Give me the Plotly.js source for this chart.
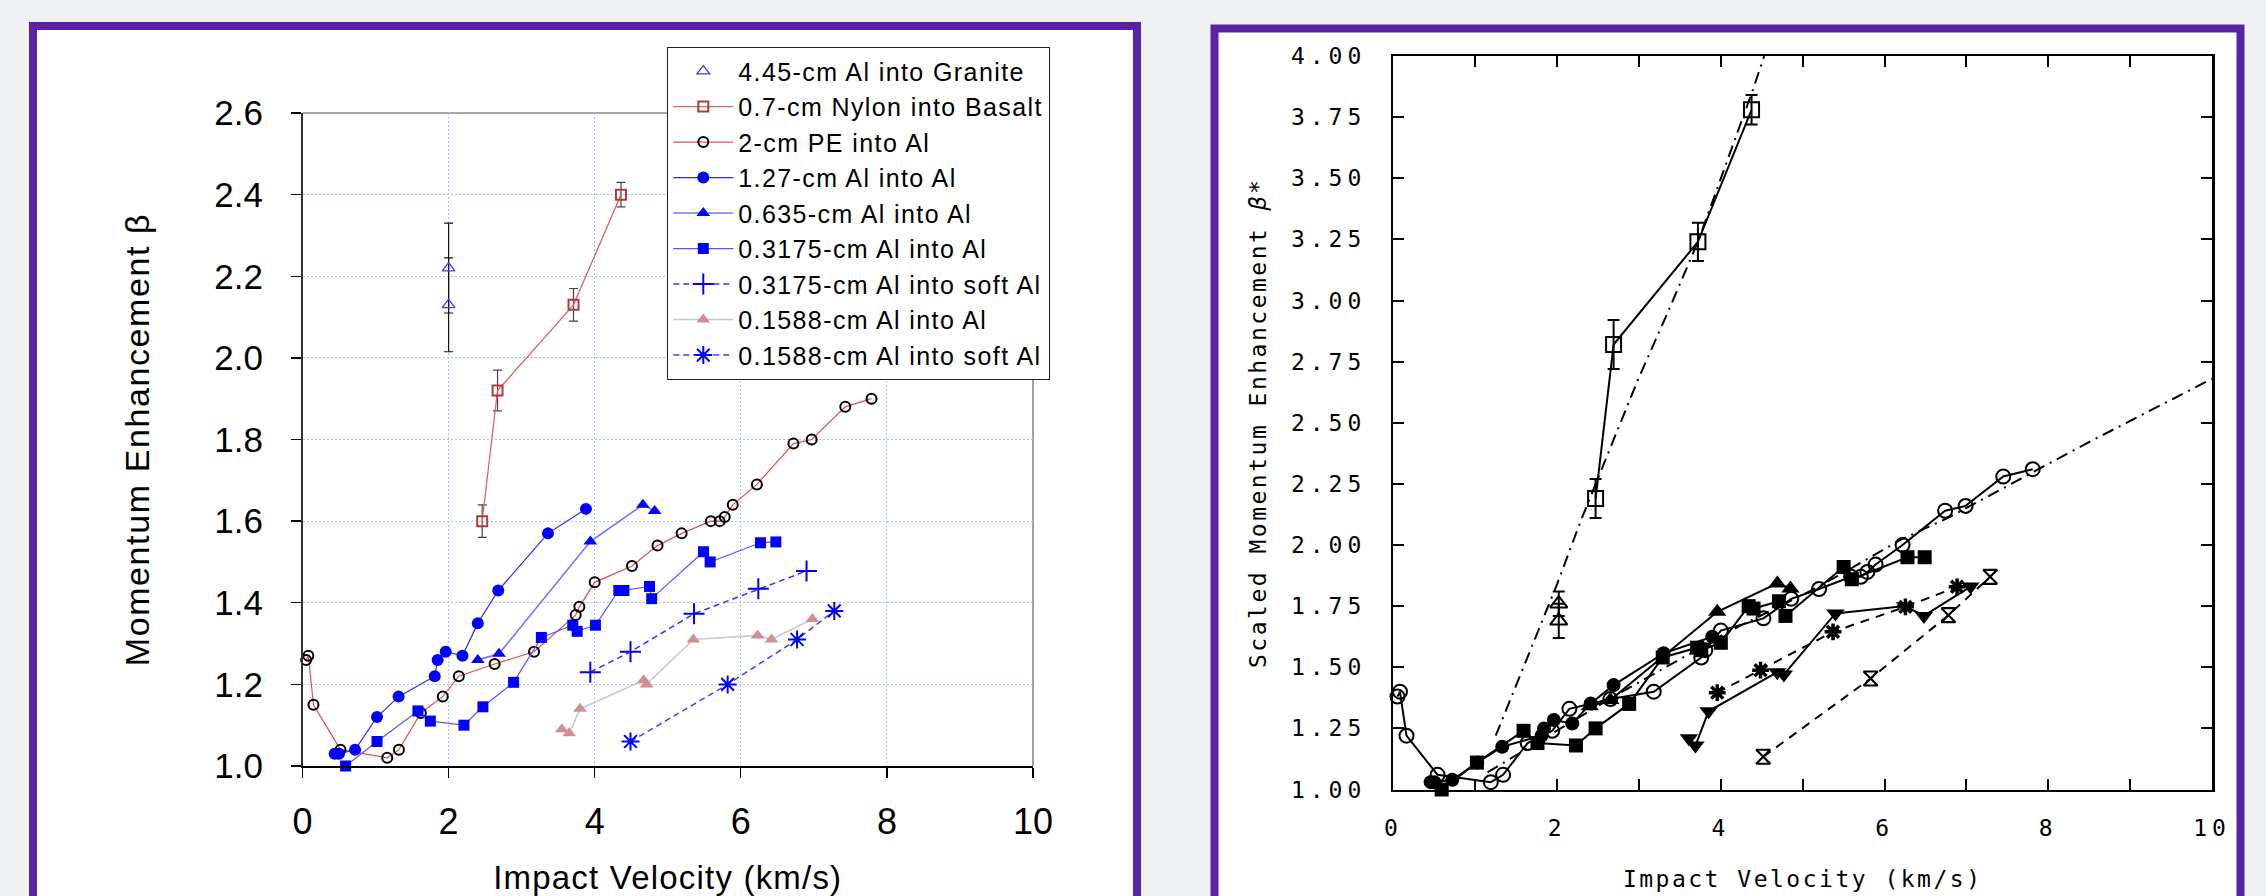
<!DOCTYPE html>
<html>
<head>
<meta charset="utf-8">
<script src="https://cdn.plot.ly/plotly-3.0.1.min.js"></script>
<style>
html,body{margin:0;padding:0;background:#eef0f2;}
#chart{width:2266px;height:896px;}
.xtitle{letter-spacing:1.2px;}
.ytitle{letter-spacing:1.6px;}
.legendtext{letter-spacing:1.4px;}
.x2title,.y2title{letter-spacing:2.5px;}
.x2tick text,.y2tick text{letter-spacing:5px;}
</style>
</head>
<body>
<div id="chart"></div>
<script>
// ---------- Left panel: Momentum Enhancement beta ----------
const legendNames = [
  '4.45-cm Al into Granite',
  '0.7-cm Nylon into Basalt',
  '2-cm PE into Al',
  '1.27-cm Al into Al',
  '0.635-cm Al into Al',
  '0.3175-cm Al into Al',
  '0.3175-cm Al into soft Al',
  '0.1588-cm Al into Al',
  '0.1588-cm Al into soft Al'
];

const graniteX = [2.0, 2.0];
const graniteY = [2.22, 2.13];
const graniteErr = [0.11, 0.115];

const nylonX = [2.46, 2.67, 3.71, 4.36];
const nylonY = [1.60, 1.92, 2.13, 2.40];
const nylonErr = [0.04, 0.05, 0.04, 0.03];

const peX = [0.05, 0.08, 0.15, 0.52, 1.16, 1.32, 1.62, 1.92, 2.14, 2.63, 3.17, 3.74, 3.79, 4.0, 4.51, 4.86, 5.19, 5.59, 5.71, 5.78, 5.89, 6.22, 6.72, 6.97, 7.43, 7.79];
const peY = [1.26, 1.27, 1.15, 1.04, 1.02, 1.04, 1.13, 1.17, 1.22, 1.25, 1.28, 1.37, 1.39, 1.45, 1.49, 1.54, 1.57, 1.60, 1.60, 1.61, 1.64, 1.69, 1.79, 1.80, 1.88, 1.90];

const al127X = [0.44, 0.50, 0.72, 1.02, 1.315, 1.81, 1.85, 1.96, 2.19, 2.40, 2.68, 3.36, 3.88];
const al127Y = [1.03, 1.03, 1.04, 1.12, 1.17, 1.22, 1.26, 1.28, 1.27, 1.35, 1.43, 1.57, 1.63];

const al0635X = [2.40, 2.69, 3.94, 4.66, 4.82];
const al0635Y = [1.26, 1.275, 1.55, 1.64, 1.625];

const al3175X = [0.59, 1.02, 1.58, 1.75, 2.21, 2.47, 2.89, 3.27, 3.70, 3.76, 4.01, 4.33, 4.40, 4.75, 4.78, 5.49, 5.58, 6.27, 6.48];
const al3175Y = [1.0, 1.06, 1.135, 1.11, 1.10, 1.145, 1.205, 1.315, 1.345, 1.33, 1.345, 1.43, 1.43, 1.44, 1.41, 1.525, 1.50, 1.547, 1.549];

const soft3175X = [3.94, 4.49, 5.36, 6.24, 6.90];
const soft3175Y = [1.23, 1.28, 1.373, 1.434, 1.478];

const al1588X = [3.55, 3.65, 3.80, 4.67, 4.71, 5.35, 6.23, 6.42, 6.98];
const al1588Y = [1.09, 1.08, 1.14, 1.21, 1.20, 1.31, 1.32, 1.31, 1.36];

const soft1588X = [4.49, 5.82, 6.77, 7.28];
const soft1588Y = [1.06, 1.20, 1.31, 1.38];

// ---------- Right panel: Scaled Momentum Enhancement beta* ----------
const sGraniteX = [2.02, 2.02];
const sGraniteY = [1.76, 1.69];
const sGraniteErr = [0.05, 0.07];

const sNylonX = [2.47, 2.69, 3.72, 4.375];
const sNylonY = [2.19, 2.82, 3.24, 3.78];
const sNylonErr = [0.08, 0.10, 0.078, 0.06];

const sPeX = [0.05, 0.08, 0.16, 0.54, 1.19, 1.34, 1.64, 1.94, 2.15, 2.65, 3.18, 3.76, 3.81, 4.0, 4.52, 4.86, 5.2, 5.59, 5.71, 5.79, 5.89, 6.22, 6.74, 6.99, 7.45, 7.81];
const sPeY = [1.38, 1.40, 1.22, 1.06, 1.03, 1.06, 1.19, 1.24, 1.33, 1.37, 1.40, 1.54, 1.57, 1.65, 1.70, 1.78, 1.82, 1.87, 1.87, 1.89, 1.92, 2.0, 2.14, 2.16, 2.28, 2.31];

const sAl127X = [0.455, 0.50, 0.72, 1.025, 1.33, 1.81, 1.84, 1.96, 2.185, 2.41, 2.69, 3.30, 3.895];
const sAl127Y = [1.03, 1.03, 1.04, 1.11, 1.175, 1.22, 1.25, 1.284, 1.27, 1.352, 1.427, 1.557, 1.625];

const sAl0635X = [2.40, 2.65, 3.956, 4.69, 4.85];
const sAl0635Y = [1.34, 1.366, 1.727, 1.843, 1.822];

const sAl3175X = [0.59, 1.02, 1.59, 1.76, 2.23, 2.47, 2.88, 3.29, 3.71, 3.76, 4.0, 4.34, 4.40, 4.71, 4.79, 5.50, 5.60, 6.28, 6.49];
const sAl3175Y = [1.0, 1.11, 1.24, 1.19, 1.18, 1.25, 1.35, 1.54, 1.58, 1.57, 1.60, 1.75, 1.74, 1.77, 1.71, 1.91, 1.86, 1.95, 1.95];

const sAl1588X = [3.61, 3.69, 3.85, 4.69, 4.77, 5.40, 6.25, 6.48, 7.05];
const sAl1588Y = [1.21, 1.18, 1.32, 1.48, 1.47, 1.72, 1.75, 1.71, 1.83];

const sSoft3175X = [3.956, 4.485, 5.37, 6.255, 6.886];
const sSoft3175Y = [1.396, 1.488, 1.645, 1.747, 1.829];

const sSoft1588X = [4.518, 5.83, 6.78, 7.29];
const sSoft1588Y = [1.134, 1.454, 1.713, 1.87];

const fitSteepX = [1.25, 1.64, 2.0, 2.29, 2.69, 2.98, 3.35, 3.72, 4.40, 4.53];
const fitSteepY = [1.22, 1.54, 1.84, 2.10, 2.43, 2.67, 2.95, 3.24, 3.87, 4.0];

const fitShallowX = [1.15, 2.69, 4.12, 5.2, 6.19, 6.8, 7.99, 8.55, 10.0];
const fitShallowY = [1.07, 1.38, 1.65, 1.83, 2.02, 2.115, 2.33, 2.43, 2.68];

const rightYTicks = [1.0, 1.25, 1.5, 1.75, 2.0, 2.25, 2.5, 2.75, 3.0, 3.25, 3.5, 3.75, 4.0];
const rightYTickText = ['1.00', '1.25', '1.50', '1.75', '2.00', '2.25', '2.50', '2.75', '3.00', '3.25', '3.50', '3.75', '4.00'];
const rightXTicks = [0, 1, 2, 3, 4, 5, 6, 7, 8, 9, 10];
const rightXTickText = ['0', '', '2', '', '4', '', '6', '', '8', '', '10'];

// ---------- traces ----------
const W = 2266, H = 896;
const px = v => v / W;
const py = v => 1 - v / H;

const ebL = (arr, col) => ({type: 'data', array: arr, visible: true, color: col, thickness: 1.2, width: 4.5});
const ebR = arr => ({type: 'data', array: arr, visible: true, color: '#000', thickness: 2, width: 6});

const traces = [
  {x: graniteX, y: graniteY, name: legendNames[0], mode: 'markers', cliponaxis: false,
   marker: {symbol: 'triangle-up-open', size: 11, color: '#3c3cff', line: {width: 1.3, color: '#3c3cff'}},
   error_y: ebL(graniteErr, '#111')},
  {x: nylonX, y: nylonY, name: legendNames[1], mode: 'lines+markers', cliponaxis: false,
   line: {color: '#e06060', width: 1.3},
   marker: {symbol: 'square-open', size: 10, color: '#b03a3a', line: {width: 2, color: '#b03a3a'}},
   error_y: ebL(nylonErr, '#444')},
  {x: peX, y: peY, name: legendNames[2], mode: 'lines+markers', cliponaxis: false,
   line: {color: '#e05050', width: 1.2},
   marker: {symbol: 'circle-open', size: 10, color: '#000', line: {width: 2, color: '#000'}}},
  {x: al127X, y: al127Y, name: legendNames[3], mode: 'lines+markers', cliponaxis: false,
   line: {color: '#2a2aff', width: 1.2},
   marker: {symbol: 'circle', size: 12, color: '#0000ff'}},
  {x: al0635X, y: al0635Y, name: legendNames[4], mode: 'lines+markers', cliponaxis: false,
   line: {color: '#7474ff', width: 1.6},
   marker: {symbol: 'triangle-up', size: 12, color: '#0000ff'}},
  {x: al3175X, y: al3175Y, name: legendNames[5], mode: 'lines+markers', cliponaxis: false,
   line: {color: '#5555ff', width: 1.2},
   marker: {symbol: 'square', size: 11, color: '#0000ff'}},
  {x: soft3175X, y: soft3175Y, name: legendNames[6], mode: 'lines+markers', cliponaxis: false,
   line: {color: '#3030ff', width: 1.5, dash: '6px,4px'},
   marker: {symbol: 'cross-thin-open', size: 15, color: '#0000ff', line: {width: 2, color: '#0000ff'}}},
  {x: al1588X, y: al1588Y, name: legendNames[7], mode: 'lines+markers', cliponaxis: false,
   line: {color: '#c8c8c8', width: 1.6},
   marker: {symbol: 'triangle-up', size: 12, color: '#d09090'}},
  {x: soft1588X, y: soft1588Y, name: legendNames[8], mode: 'lines+markers', cliponaxis: false,
   line: {color: '#4040ff', width: 1.5, dash: '6px,4px'},
   marker: {symbol: 'asterisk-open', size: 15, color: '#0000ff', line: {width: 2, color: '#0000ff'}}},

  // right panel
  {x: fitSteepX, y: fitSteepY, xaxis: 'x2', yaxis: 'y2', mode: 'lines', showlegend: false,
   line: {color: '#000', width: 2, dash: '12px,6px,2px,6px'}},
  {x: fitShallowX, y: fitShallowY, xaxis: 'x2', yaxis: 'y2', mode: 'lines', showlegend: false,
   line: {color: '#000', width: 2, dash: '12px,6px,2px,6px'}},
  {x: sGraniteX, y: sGraniteY, xaxis: 'x2', yaxis: 'y2', mode: 'markers', showlegend: false, cliponaxis: false,
   marker: {symbol: 'triangle-up-open', size: 15, color: '#000', line: {width: 2, color: '#000'}},
   error_y: ebR(sGraniteErr)},
  {x: sNylonX, y: sNylonY, xaxis: 'x2', yaxis: 'y2', mode: 'lines+markers', showlegend: false, cliponaxis: false,
   line: {color: '#000', width: 2},
   marker: {symbol: 'square-open', size: 15, color: '#000', line: {width: 2, color: '#000'}},
   error_y: ebR(sNylonErr)},
  {x: sPeX, y: sPeY, xaxis: 'x2', yaxis: 'y2', mode: 'lines+markers', showlegend: false, cliponaxis: false,
   line: {color: '#000', width: 2},
   marker: {symbol: 'circle-open', size: 14, color: '#000', line: {width: 2, color: '#000'}}},
  {x: sAl127X, y: sAl127Y, xaxis: 'x2', yaxis: 'y2', mode: 'lines+markers', showlegend: false, cliponaxis: false,
   line: {color: '#000', width: 2},
   marker: {symbol: 'circle', size: 14, color: '#000'}},
  {x: sAl0635X, y: sAl0635Y, xaxis: 'x2', yaxis: 'y2', mode: 'lines+markers', showlegend: false, cliponaxis: false,
   line: {color: '#000', width: 2},
   marker: {symbol: 'triangle-up', size: 16, color: '#000'}},
  {x: sAl3175X, y: sAl3175Y, xaxis: 'x2', yaxis: 'y2', mode: 'lines+markers', showlegend: false, cliponaxis: false,
   line: {color: '#000', width: 2},
   marker: {symbol: 'square', size: 14, color: '#000'}},
  {x: sAl1588X, y: sAl1588Y, xaxis: 'x2', yaxis: 'y2', mode: 'lines+markers', showlegend: false, cliponaxis: false,
   line: {color: '#000', width: 2},
   marker: {symbol: 'triangle-down', size: 16, color: '#000'}},
  {x: sSoft3175X, y: sSoft3175Y, xaxis: 'x2', yaxis: 'y2', mode: 'lines+markers', showlegend: false, cliponaxis: false,
   line: {color: '#000', width: 2, dash: '9px,7px'},
   marker: {symbol: 'asterisk-open', size: 14, color: '#000', line: {width: 3.5, color: '#000'}}},
  {x: sSoft1588X, y: sSoft1588Y, xaxis: 'x2', yaxis: 'y2', mode: 'lines+markers', showlegend: false, cliponaxis: false,
   line: {color: '#000', width: 2, dash: '9px,7px'},
   marker: {symbol: 'hourglass-open', size: 14, color: '#000', line: {width: 2.2, color: '#000'}}}
];

const purple = '#5a22a4';
const leftFont = 'Liberation Sans, Arial, sans-serif';
const rightFont = 'DejaVu Sans Mono, monospace';

const layout = {
  width: W, height: H,
  margin: {l: 0, r: 0, t: 0, b: 0},
  paper_bgcolor: '#eef0f2',
  plot_bgcolor: 'rgba(0,0,0,0)',
  showlegend: true,
  legend: {
    x: px(667), y: py(47), xanchor: 'left', yanchor: 'top',
    bgcolor: '#ffffff', bordercolor: '#222', borderwidth: 1.3,
    font: {family: leftFont, size: 25, color: '#000'},
    itemwidth: 60, tracegroupgap: 0
  },
  xaxis: {
    domain: [px(302.5), px(1033)], anchor: 'y', range: [0, 10],
    tick0: 0, dtick: 2, ticks: 'outside', ticklen: 10, tickwidth: 1.3, tickcolor: '#000',
    showline: true, linecolor: '#000', linewidth: 1.5,
    showgrid: true, gridcolor: '#9ccaf5', gridwidth: 1, griddash: '2px,2px',
    zeroline: false, ticklabelstandoff: 13,
    tickfont: {family: leftFont, size: 36, color: '#000'},
    title: {text: 'Impact Velocity (km/s)', font: {family: leftFont, size: 33, color: '#000'}, standoff: 26}
  },
  yaxis: {
    domain: [py(766), py(113)], anchor: 'x', range: [1.0, 2.6],
    tick0: 1.0, dtick: 0.2, tickformat: '.1f', ticks: 'outside', ticklen: 10, tickwidth: 1.3, tickcolor: '#000',
    showline: true, linecolor: '#333', linewidth: 1.5,
    showgrid: true, gridcolor: '#9ccaf5', gridwidth: 1, griddash: '2px,2px',
    zeroline: false, ticklabelstandoff: 21,
    tickfont: {family: leftFont, size: 35, color: '#000'},
    title: {text: 'Momentum Enhancement β', font: {family: leftFont, size: 34, color: '#000'}, standoff: 54}
  },
  xaxis2: {
    domain: [px(1393.4), px(2212)], anchor: 'y2', range: [0, 10],
    tickmode: 'array', tickvals: rightXTicks, ticktext: rightXTickText,
    ticks: 'inside', ticklen: 11, tickwidth: 2, tickcolor: '#000', mirror: 'allticks',
    showline: true, linecolor: '#000', linewidth: 2.5, showgrid: false, zeroline: false,
    ticklabelstandoff: 16,
    tickfont: {family: rightFont, size: 23, color: '#000'},
    title: {text: 'Impact Velocity (km/s)', font: {family: rightFont, size: 23, color: '#000'}, standoff: 32}
  },
  yaxis2: {
    domain: [py(789.5), py(56)], anchor: 'x2', range: [1, 4],
    tickmode: 'array', tickvals: rightYTicks, ticktext: rightYTickText,
    ticks: 'inside', ticklen: 11, tickwidth: 2, tickcolor: '#000', mirror: 'allticks',
    showline: true, linecolor: '#000', linewidth: 2.5, showgrid: false, zeroline: false,
    ticklabelstandoff: 20,
    tickfont: {family: rightFont, size: 23, color: '#000'},
    title: {text: 'Scaled Momentum Enhancement <i>β</i>*', font: {family: rightFont, size: 23, color: '#000'}, standoff: 18}
  },
  shapes: [
    {type: 'rect', xref: 'paper', yref: 'paper', layer: 'below', x0: px(33), x1: px(1137), y0: py(930), y1: py(26),
     fillcolor: '#ffffff', line: {width: 0}},
    {type: 'rect', xref: 'paper', yref: 'paper', layer: 'below', x0: px(1214.5), x1: px(2240.5), y0: py(930), y1: py(28.5),
     fillcolor: '#ffffff', line: {width: 0}},
    {type: 'line', xref: 'x domain', yref: 'y domain', x0: 0, x1: 1, y0: 1, y1: 1, layer: 'below', line: {color: '#8a8a8a', width: 1.6}},
    {type: 'line', xref: 'x domain', yref: 'y domain', x0: 1, x1: 1, y0: 0, y1: 1, layer: 'below', line: {color: '#8a8a8a', width: 1.6}},
    {type: 'rect', xref: 'paper', yref: 'paper', layer: 'above', x0: px(33), x1: px(1137), y0: py(930), y1: py(26),
     fillcolor: 'rgba(0,0,0,0)', line: {color: purple, width: 8}},
    {type: 'rect', xref: 'paper', yref: 'paper', layer: 'above', x0: px(1214.5), x1: px(2240.5), y0: py(930), y1: py(28.5),
     fillcolor: 'rgba(0,0,0,0)', line: {color: purple, width: 8}}
  ]
};

Plotly.newPlot('chart', traces, layout, {displayModeBar: false, staticPlot: true});
</script>
</body>
</html>
